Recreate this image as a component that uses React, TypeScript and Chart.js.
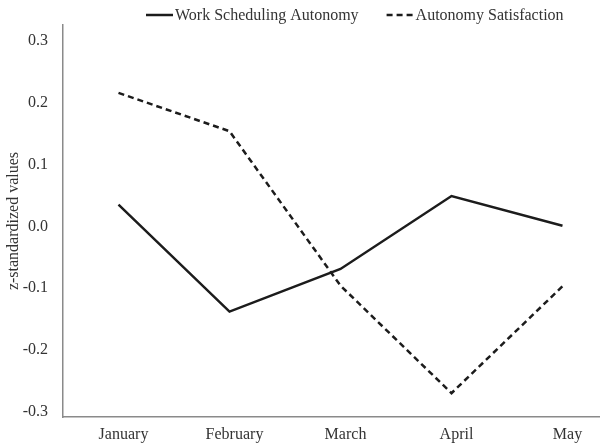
import React, { useEffect, useRef } from "react";
import { Chart, registerables } from "chart.js";

Chart.register(...registerables);

const months = ["January", "February", "March", "April", "May"];
const workScheduling = [0.035, -0.138, -0.069, 0.049, 0.001];
const autonomySatisfaction = [0.216, 0.154, -0.096, -0.27, -0.097];
const seriesNames = ["Work Scheduling Autonomy", "Autonomy Satisfaction"];
const yTickValues = [-0.3, -0.2, -0.1, 0, 0.1, 0.2, 0.3];
const yTitle = "z-standardized values";

const FONT = '"Liberation Serif", "Times New Roman", serif';
const TEXT = "#333333";
const AXIS = "#8a8a8a";
const LINE = "#1c1c1c";

const legendPlugin = {
  id: "customLegend",
  afterDraw(chart: any) {
    const ctx = chart.ctx;
    ctx.save();
    ctx.font = `16px ${FONT}`;
    ctx.textBaseline = "middle";
    let x = 146;
    const y = 16;
    chart.data.datasets.forEach((ds: any) => {
      ctx.beginPath();
      ctx.setLineDash(ds.borderDash || []);
      ctx.lineWidth = ds.borderWidth;
      ctx.strokeStyle = ds.borderColor;
      ctx.moveTo(x, y - 1);
      ctx.lineTo(x + 27, y - 1);
      ctx.stroke();
      ctx.setLineDash([]);
      ctx.fillStyle = TEXT;
      ctx.textAlign = "left";
      ctx.fillText(ds.label, x + 29, y);
      x += 29 + ctx.measureText(ds.label).width + 28;
    });
    ctx.restore();
  },
};

export default function App() {
  const canvasRef = useRef<HTMLCanvasElement | null>(null);

  useEffect(() => {
    if (!canvasRef.current) return;
    const chart = new Chart(canvasRef.current, {
      type: "line",
      data: {
        labels: months,
        datasets: [
          {
            label: seriesNames[0],
            data: workScheduling,
            borderColor: LINE,
            backgroundColor: LINE,
            borderWidth: 2.5,
            pointRadius: 0,
            tension: 0,
            fill: false,
          },
          {
            label: seriesNames[1],
            data: autonomySatisfaction,
            borderColor: LINE,
            backgroundColor: LINE,
            borderWidth: 2.5,
            borderDash: [6, 4],
            pointRadius: 0,
            tension: 0,
            fill: false,
          },
        ],
      },
      options: {
        responsive: false,
        animation: false,
        devicePixelRatio: 1,
        layout: { padding: { top: 25, left: 0, right: 0, bottom: 0 } },
        plugins: {
          legend: { display: false },
          tooltip: { enabled: false },
        },
        scales: {
          x: {
            type: "category",
            offset: true,
            grid: { display: false, drawTicks: false },
            border: { display: true, color: AXIS, width: 1.5 },
            ticks: {
              color: TEXT,
              font: { family: FONT, size: 16 },
              padding: 8,
              labelOffset: 5,
              maxRotation: 0,
              autoSkip: false,
            },
            afterFit: (scale: any) => {
              scale.height = 29;
            },
          },
          y: {
            type: "linear",
            min: -0.3086,
            max: 0.3259,
            grid: { display: false, drawTicks: false },
            border: { display: true, color: AXIS, width: 1.5 },
            afterBuildTicks: (scale: any) => {
              scale.ticks = yTickValues.map((v) => ({ value: v }));
            },
            ticks: {
              color: TEXT,
              font: { family: FONT, size: 16 },
              padding: 15,
              callback: (v: any) => Number(v).toFixed(1),
            },
            title: {
              display: true,
              text: yTitle,
              color: TEXT,
              font: { family: FONT, size: 16 },
            },
            afterFit: (scale: any) => {
              scale.width = 63;
            },
          },
        },
      },
      plugins: [legendPlugin],
    });
    return () => chart.destroy();
  }, []);

  return (
    <div
      style={{
        position: "fixed",
        left: 0,
        top: 0,
        width: 600,
        height: 446,
        overflow: "hidden",
        background: "#ffffff",
      }}
    >
      <canvas ref={canvasRef} width={618} height={446} style={{ display: "block", width: 618, height: 446 }} />
    </div>
  );
}
